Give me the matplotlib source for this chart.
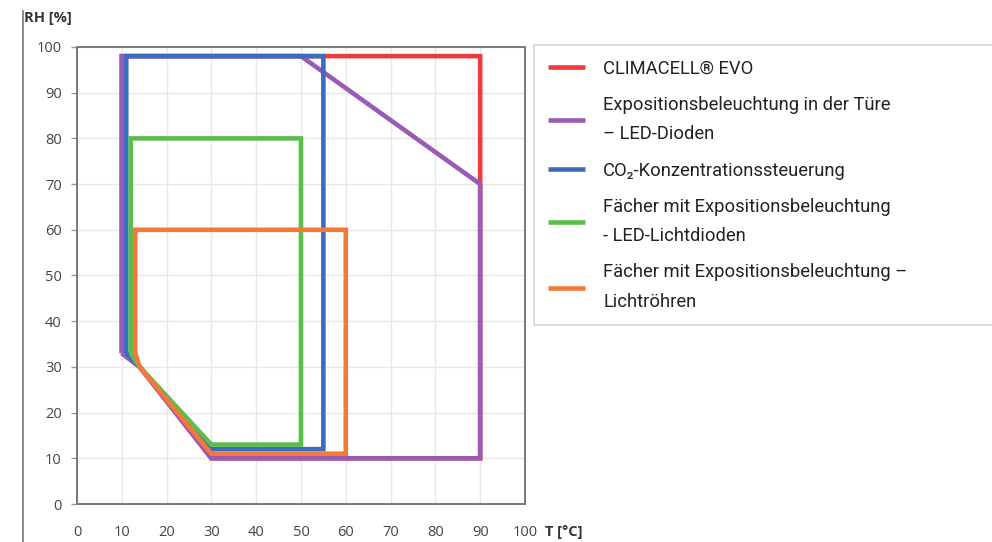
import matplotlib
matplotlib.use("Agg")
import matplotlib.pyplot as plt
from matplotlib import font_manager
from matplotlib.lines import Line2D

# ----------------------
# Data (T in °C, RH in %)
# ----------------------
climacell_t = [10, 14, 30, 90, 90, 10, 10]
climacell_rh = [33, 30, 10, 10, 98, 98, 33]

led_door_t = [10, 14, 30, 90, 90, 50, 10, 10]
led_door_rh = [33, 30, 10, 10, 70, 98, 98, 33]

co2_t = [11, 14, 30, 55, 55, 11, 11]
co2_rh = [33, 30, 12, 12, 98, 98, 33]

shelf_led_t = [12, 14, 30, 50, 50, 12, 12]
shelf_led_rh = [33, 30, 13, 13, 80, 80, 33]

shelf_tube_t = [13, 14, 30, 60, 60, 13, 13]
shelf_tube_rh = [33, 30, 11, 11, 60, 60, 33]

labels = [
    "CLIMACELL® EVO",
    "Expositionsbeleuchtung in der Türe\n– LED-Dioden",
    "CO₂-Konzentrationssteuerung",
    "Fächer mit Expositionsbeleuchtung\n- LED-Lichtdioden",
    "Fächer mit Expositionsbeleuchtung –\nLichtröhren",
]
colors = ["#ee3b3f", "#9a5bb5", "#3b6cc0", "#5cbd4c", "#f27a36"]

x_ticks = list(range(0, 101, 10))
y_ticks = list(range(0, 101, 10))

# fonts
installed = {f.name for f in font_manager.fontManager.ttflist}
if "Liberation Sans Narrow" in installed:
    leg_font, leg_size = "Liberation Sans Narrow", 14.2
else:
    leg_font, leg_size = "Roboto", 13.2
plt.rcParams["font.family"] = ["Open Sans", "DejaVu Sans"]

fig = plt.figure(figsize=(9.92, 5.42), dpi=100)
ax = fig.add_axes([0.0776, 0.0701, 0.4516, 0.8432])

series = [
    (climacell_t, climacell_rh),
    (led_door_t, led_door_rh),
    (co2_t, co2_rh),
    (shelf_led_t, shelf_led_rh),
    (shelf_tube_t, shelf_tube_rh),
]
handles = []
for (t, rh), c, lab in zip(series, colors, labels):
    h, = ax.plot(t, rh, color=c, lw=3.3, solid_joinstyle="miter",
                 solid_capstyle="butt", label=lab)
    handles.append(h)

ax.set_xlim(0, 100)
ax.set_ylim(0, 100)
ax.set_xticks(x_ticks)
ax.set_yticks(y_ticks)
ax.grid(True, color="#e8e8e8", lw=1)
ax.set_axisbelow(True)
for s in ax.spines.values():
    s.set_color("#7a7a7a")
    s.set_linewidth(1.4)
ax.tick_params(axis="x", length=0, pad=15, labelsize=10.5, colors="#444444")
ax.tick_params(axis="y", length=4, width=1, color="#999999", pad=7,
               labelsize=10.5, labelcolor="#444444")

fig.text(0.024, 0.967, "RH [%]", fontsize=10.5, color="#333333",
         fontweight="bold", va="center", ha="left")
fig.text(0.549, 0.019, "T [°C]", fontsize=10.5, color="#333333",
         fontweight="bold", va="center", ha="left")
fig.add_artist(Line2D([0.0235, 0.0235], [0.0, 0.98], transform=fig.transFigure,
                      color="#777777", lw=1.2))

leg = fig.legend(handles=handles, loc="upper left",
                 bbox_to_anchor=(0.538, 0.0, 0.5, 0.917), mode="expand",
                 prop={"family": [leg_font, "DejaVu Sans"], "size": leg_size},
                 handlelength=2.0, handletextpad=1.0, borderpad=0.8,
                 labelspacing=1.0, fancybox=False, frameon=True,
                 borderaxespad=0)
leg.get_frame().set_edgecolor("#cccccc")
leg.get_frame().set_linewidth(1.2)
for t in leg.get_texts():
    t.set_color("#222222")
    t.set_linespacing(1.8)

fig.savefig("out.png", dpi=100)
